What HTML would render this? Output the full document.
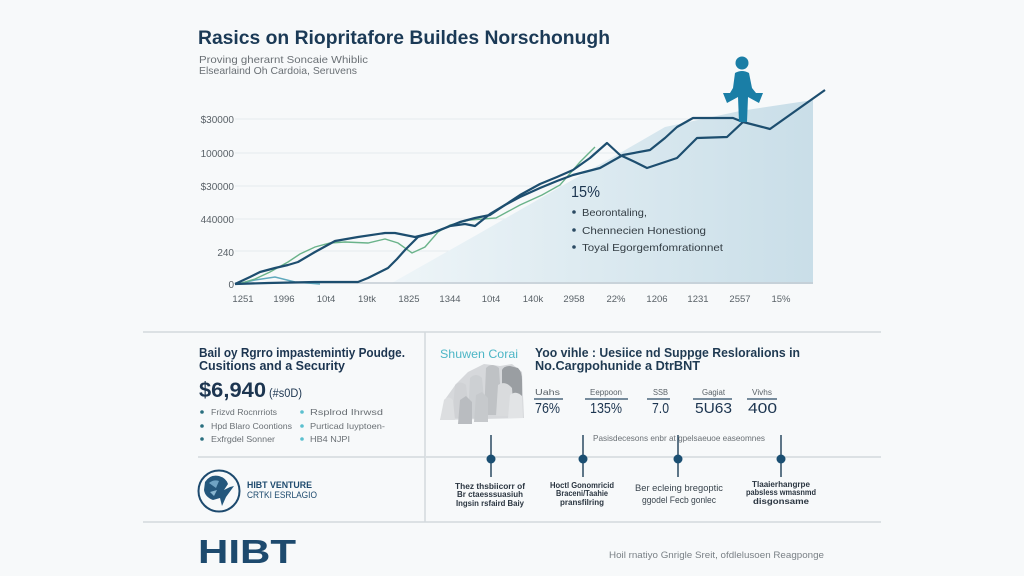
<!DOCTYPE html>
<html>
<head>
<meta charset="utf-8">
<style>
html,body{margin:0;padding:0;background:#f7f9fa;}
svg{display:block;}
text{font-family:"Liberation Sans",sans-serif;}
</style>
</head>
<body>
<svg width="1024" height="576" viewBox="0 0 1024 576" xmlns="http://www.w3.org/2000/svg">
<defs>
<linearGradient id="fillg" x1="390" y1="0" x2="813" y2="0" gradientUnits="userSpaceOnUse">
<stop offset="0" stop-color="#eef5f8"/>
<stop offset="1" stop-color="#c9dee8"/>
</linearGradient>
</defs>
<rect width="1024" height="576" fill="#f7f9fa"/>

<!-- Title -->
<text x="198" y="44" font-size="19.5" font-weight="bold" fill="#1b3a56" textLength="412" lengthAdjust="spacingAndGlyphs">Rasics on Riopritafore Buildes Norschonugh</text>
<text x="199" y="63" font-size="10.5" fill="#6a7075" textLength="169" lengthAdjust="spacingAndGlyphs">Proving gherarnt Soncaie Whiblic</text>
<text x="199" y="74" font-size="10.5" fill="#6a7075" textLength="158" lengthAdjust="spacingAndGlyphs">Elsearlaind Oh Cardoia, Seruvens</text>

<!-- gridlines -->
<g stroke="#e4eaee" stroke-width="1">
<line x1="235" y1="119" x2="813" y2="119"/>
<line x1="235" y1="153" x2="813" y2="153"/>
<line x1="235" y1="186" x2="813" y2="186"/>
<line x1="235" y1="219" x2="813" y2="219"/>
<line x1="235" y1="251" x2="813" y2="251"/>
</g>

<!-- y labels -->
<g font-size="10" fill="#5a6268" text-anchor="end">
<text x="234" y="123">$30000</text>
<text x="234" y="157">100000</text>
<text x="234" y="190">$30000</text>
<text x="234" y="223">440000</text>
<text x="234" y="256">240</text>
<text x="234" y="288">0</text>
</g>

<!-- area fill -->
<polygon points="390,284 480,233 560,187 620,153 665,127 740,111 813,100 813,284" fill="url(#fillg)"/>

<!-- axis -->
<line x1="235" y1="283" x2="813" y2="283" stroke="#c3ccd3" stroke-width="1.5"/>

<!-- x labels -->
<g font-size="9.5" fill="#5a6268" text-anchor="middle">
<text x="243" y="302">1251</text>
<text x="284" y="302">1996</text>
<text x="326" y="302">10t4</text>
<text x="367" y="302">19tk</text>
<text x="409" y="302">1825</text>
<text x="450" y="302">1344</text>
<text x="491" y="302">10t4</text>
<text x="533" y="302">140k</text>
<text x="574" y="302">2958</text>
<text x="616" y="302">22%</text>
<text x="657" y="302">1206</text>
<text x="698" y="302">1231</text>
<text x="740" y="302">2557</text>
<text x="781" y="302">15%</text>
</g>

<!-- light teal line -->
<polyline points="238,284 255,280 275,277 295,282 320,284" fill="none" stroke="#5fa9bd" stroke-width="1.5"/>

<!-- green line -->
<polyline points="238,284 255,279 270,272 288,262 300,254 315,247 330,243 345,242 368,243 385,239 398,243 412,253 425,247 438,232 450,225 470,220 496,218 520,205 542,195 560,185 580,162 595,147" fill="none" stroke="#6ab38a" stroke-width="1.4"/>

<!-- Line A -->
<polyline points="235,284 250,277 260,272 275,268 288,265 298,262 315,252 335,241 358,237 385,233 395,233 415,237 432,233 445,228 460,222 475,218 490,215 505,205 520,195 540,184 557,177 573,170 590,158 607,143 620,155 635,162 647,168 662,163 677,158 697,138 727,137 743,122" fill="none" stroke="#1d4e6f" stroke-width="2.2" stroke-linejoin="round"/>

<!-- Line B -->
<polyline points="235,284 268,283 315,282 358,282 368,278 380,272 388,268 397,259 405,250 418,237 435,232 450,226 465,224 475,226 490,214 505,205 520,197 540,188 557,181 573,175 600,168 623,155 650,150 665,138 677,127 693,118 733,118 743,122 770,129 825,90" fill="none" stroke="#1d4e6f" stroke-width="2.2" stroke-linejoin="round"/>

<!-- person icon -->
<g fill="#1a7ea6">
<circle cx="742" cy="63" r="6.5"/>
<path d="M735,73 Q742,69 749,73 L752,88 L756,93 L763,93 L759,103 L748,97 L747,122 L739,122 L738,97 L727,103 L723,93 L730,93 L733,88 Z"/>
</g>

<!-- annotation -->
<text x="571" y="197" font-size="16" fill="#1c3550" textLength="29" lengthAdjust="spacingAndGlyphs">15%</text>
<g fill="#2b4a63">
<circle cx="574" cy="212" r="1.8"/>
<circle cx="574" cy="230" r="1.8"/>
<circle cx="574" cy="247" r="1.8"/>
</g>
<g font-size="10.5" fill="#333d44">
<text x="582" y="216" textLength="65" lengthAdjust="spacingAndGlyphs">Beorontaling,</text>
<text x="582" y="234" textLength="124" lengthAdjust="spacingAndGlyphs">Chennecien Honestiong</text>
<text x="582" y="251" textLength="141" lengthAdjust="spacingAndGlyphs">Toyal Egorgemfomrationnet</text>
</g>

<!-- dividers -->
<g stroke="#d3d9dd" stroke-width="1.5">
<line x1="143" y1="332" x2="881" y2="332"/>
<line x1="143" y1="522" x2="881" y2="522"/>
<line x1="425" y1="332" x2="425" y2="522"/>
<line x1="198" y1="457" x2="425" y2="457"/>
</g>

<!-- left panel -->
<text x="199" y="357" font-size="13" font-weight="bold" fill="#1c3550" textLength="206" lengthAdjust="spacingAndGlyphs">Bail oy Rgrro impastemintiy Poudge.</text>
<text x="199" y="370" font-size="13" font-weight="bold" fill="#1c3550" textLength="146" lengthAdjust="spacingAndGlyphs">Cusitions and a Security</text>
<text x="199" y="397" font-size="21" font-weight="bold" fill="#1c3550" textLength="67" lengthAdjust="spacingAndGlyphs">$6,940</text>
<text x="269" y="397" font-size="11.5" fill="#1c3550" textLength="33" lengthAdjust="spacingAndGlyphs">(#s0D)</text>
<g fill="#2a6f7f">
<circle cx="202" cy="412" r="1.8"/>
<circle cx="202" cy="426" r="1.8"/>
<circle cx="202" cy="439" r="1.8"/>
</g>
<g fill="#5bc0cf">
<circle cx="302" cy="412" r="1.8"/>
<circle cx="302" cy="426" r="1.8"/>
<circle cx="302" cy="439" r="1.8"/>
</g>
<g font-size="8.5" fill="#6a7075">
<text x="211" y="415" textLength="66" lengthAdjust="spacingAndGlyphs">Frizvd Rocnrriots</text>
<text x="211" y="429" textLength="81" lengthAdjust="spacingAndGlyphs">Hpd Blaro Coontions</text>
<text x="211" y="442" textLength="64" lengthAdjust="spacingAndGlyphs">Exfrgdel Sonner</text>
<text x="310" y="415" textLength="73" lengthAdjust="spacingAndGlyphs">Rsplrod Ihrwsd</text>
<text x="310" y="429" textLength="75" lengthAdjust="spacingAndGlyphs">Purticad Iuyptoen-</text>
<text x="310" y="442" textLength="40" lengthAdjust="spacingAndGlyphs">HB4 NJPI</text>
</g>

<!-- logo -->
<circle cx="219" cy="491" r="20.5" fill="none" stroke="#1d4a6e" stroke-width="2"/>
<path d="M205,482 Q210,474 219,476 Q226,478 228,484 L224,490 L230,487 L234,486 L226,497 L222,506 L220,498 L213,500 Q205,497 204,490 Z" fill="#24577c"/>
<path d="M209,483 Q214,479 219,481 L216,488 Z" fill="#6fa3c4"/>
<path d="M210,492 L217,490 L214,496 Z" fill="#8ab7d1"/>
<text x="247" y="488" font-size="9.5" font-weight="bold" fill="#1d4a6e" textLength="65" lengthAdjust="spacingAndGlyphs">HIBT VENTURE</text>
<text x="247" y="498" font-size="9" fill="#1d4a6e" textLength="70" lengthAdjust="spacingAndGlyphs">CRTKI ESRLAGIO</text>

<!-- right panel -->
<text x="440" y="358" font-size="12" fill="#4db6c6" textLength="78" lengthAdjust="spacingAndGlyphs">Shuwen Corai</text>
<text x="535" y="357" font-size="13" font-weight="bold" fill="#1f3a52" textLength="265" lengthAdjust="spacingAndGlyphs">Yoo vihle : Uesiice nd Suppge Resloralions in</text>
<text x="535" y="370" font-size="13" font-weight="bold" fill="#1f3a52" textLength="165" lengthAdjust="spacingAndGlyphs">No.Cargpohunide a DtrBNT</text>

<!-- building illustration -->
<g>
<path d="M440,420 L446,398 L456,384 L468,372 L484,364 L500,366 L512,364 L522,372 L524,418 Z" fill="#d6d8db"/>
<path d="M502,370 Q504,366 510,366 L518,368 Q522,372 522,380 L522,397 L502,397 Z" fill="#9a9ea2"/>
<path d="M486,368 Q492,362 499,368 L502,415 L484,415 Z" fill="#bfc2c5"/>
<path d="M470,378 Q476,372 482,378 L486,418 L468,418 Z" fill="#cdd0d3"/>
<path d="M455,385 Q460,380 466,385 L470,418 L452,418 Z" fill="#d0d2d5"/>
<path d="M444,400 Q448,395 453,400 L455,420 L440,420 Z" fill="#dcdee0"/>
<path d="M498,385 Q505,380 512,388 L514,416 L496,416 Z" fill="#d9dbdd"/>
<path d="M510,395 Q516,390 522,396 L523,418 L508,418 Z" fill="#e2e4e6"/>
<path d="M476,395 L482,392 L488,398 L488,422 L474,422 Z" fill="#c6c9cc"/>
<path d="M460,400 L466,396 L472,402 L472,424 L458,424 Z" fill="#b9bcc0"/>
</g>

<!-- stats -->
<g font-size="8" fill="#5a6268">
<text x="535" y="395" textLength="25" lengthAdjust="spacingAndGlyphs">Uahs</text>
<text x="590" y="395" textLength="32" lengthAdjust="spacingAndGlyphs">Eeppoon</text>
<text x="653" y="395" textLength="15" lengthAdjust="spacingAndGlyphs">SSB</text>
<text x="702" y="395" textLength="23" lengthAdjust="spacingAndGlyphs">Gagiat</text>
<text x="752" y="395" textLength="20" lengthAdjust="spacingAndGlyphs">Vivhs</text>
</g>
<g stroke="#2a4a63" stroke-width="1.2">
<line x1="534" y1="399" x2="563" y2="399"/>
<line x1="585" y1="399" x2="628" y2="399"/>
<line x1="647" y1="399" x2="670" y2="399"/>
<line x1="693" y1="399" x2="732" y2="399"/>
<line x1="747" y1="399" x2="777" y2="399"/>
</g>
<g font-size="15" fill="#1c3550">
<text x="535" y="413" textLength="25" lengthAdjust="spacingAndGlyphs">76%</text>
<text x="590" y="413" textLength="32" lengthAdjust="spacingAndGlyphs">135%</text>
<text x="652" y="413" textLength="17" lengthAdjust="spacingAndGlyphs">7.0</text>
<text x="695" y="413" textLength="37" lengthAdjust="spacingAndGlyphs">5U63</text>
<text x="748" y="413" textLength="29" lengthAdjust="spacingAndGlyphs">400</text>
</g>

<!-- timeline -->
<text x="593" y="441" font-size="8.5" fill="#6a7075" textLength="172" lengthAdjust="spacingAndGlyphs">Pasisdecesons enbr at gpelsaeuoe easeomnes</text>
<line x1="426" y1="457" x2="881" y2="457" stroke="#d3d9dd" stroke-width="1.5"/>
<g stroke="#2a4a63" stroke-width="1.5">
<line x1="491" y1="435" x2="491" y2="477"/>
<line x1="583" y1="435" x2="583" y2="477"/>
<line x1="678" y1="435" x2="678" y2="477"/>
<line x1="781" y1="435" x2="781" y2="477"/>
</g>
<g fill="#1b4f72">
<circle cx="491" cy="459" r="4.5"/>
<circle cx="583" cy="459" r="4.5"/>
<circle cx="678" cy="459" r="4.5"/>
<circle cx="781" cy="459" r="4.5"/>
</g>
<g font-size="8" fill="#2a3540" text-anchor="middle" font-weight="bold">
<text x="490" y="489" textLength="70" lengthAdjust="spacingAndGlyphs">Thez thsbiicorr of</text>
<text x="490" y="497" textLength="66" lengthAdjust="spacingAndGlyphs">Br ctaesssuasiuh</text>
<text x="490" y="506" textLength="68" lengthAdjust="spacingAndGlyphs">Ingsin rsfaird Baiy</text>
<text x="582" y="488" textLength="64" lengthAdjust="spacingAndGlyphs">Hoctl Gonomricid</text>
<text x="582" y="496" textLength="52" lengthAdjust="spacingAndGlyphs">Braceni/Taahie</text>
<text x="582" y="505" textLength="44" lengthAdjust="spacingAndGlyphs">pransfilring</text>
</g>
<g font-size="9" fill="#3a454e" text-anchor="middle">
<text x="679" y="491" textLength="88" lengthAdjust="spacingAndGlyphs">Ber ecleing bregoptic</text>
<text x="679" y="503" textLength="74" lengthAdjust="spacingAndGlyphs">ggodel Fecb gonlec</text>
</g>
<g font-size="8" fill="#2a3540" text-anchor="middle" font-weight="bold">
<text x="781" y="487" textLength="58" lengthAdjust="spacingAndGlyphs">Tlaaierhangrpe</text>
<text x="781" y="495" textLength="70" lengthAdjust="spacingAndGlyphs">pabsless wmasnmd</text>
<text x="781" y="504" textLength="56" lengthAdjust="spacingAndGlyphs">disgonsame</text>
</g>

<!-- footer -->
<text x="198" y="563" font-size="33" font-weight="bold" fill="#1d4a6e" textLength="98" lengthAdjust="spacingAndGlyphs">HIBT</text>
<text x="609" y="558" font-size="9.5" fill="#7a8186" textLength="215" lengthAdjust="spacingAndGlyphs">Hoil rnatiyo Gnrigle Sreit, ofdlelusoen Reagponge</text>
</svg>
</body>
</html>
